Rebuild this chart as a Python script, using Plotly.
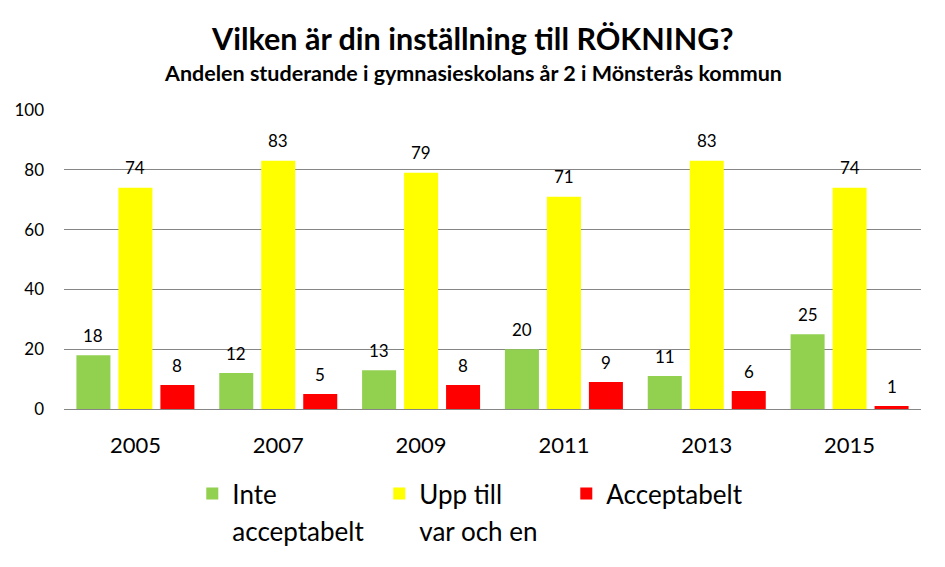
import plotly.graph_objects as go

years = ["2005", "2007", "2009", "2011", "2013", "2015"]
inte_acceptabelt = [18, 12, 13, 20, 11, 25]
upp_till = [74, 83, 79, 71, 83, 74]
acceptabelt = [8, 5, 8, 9, 6, 1]

series_names = ["Inte<br>acceptabelt", "Upp till<br>var och en", "Acceptabelt"]
colors = ["#92D050", "#FFFF00", "#FF0000"]
series_values = [inte_acceptabelt, upp_till, acceptabelt]
label_xshift = [-42, 0, 42]

FONT = "Lato"
LEG_TXT = 26

fig = go.Figure()
for name, vals, col in zip(series_names, series_values, colors):
    styled = '<span style="font-size:%dpx">%s</span>' % (LEG_TXT, name.replace("<br>", '</span><br><span style="font-size:%dpx">' % LEG_TXT))
    fig.add_trace(go.Bar(
        x=years, y=vals, name=styled, marker=dict(color=col, line=dict(width=0)),
        hoverinfo="x+y",
    ))

annotations = []
for vals, xs in zip(series_values, label_xshift):
    for i, v in enumerate(vals):
        # category index on the category x axis
        annotations.append(dict(x=i, y=v, xref="x", yref="y", text=str(v), showarrow=False,
                                xshift=xs, yshift=20, yanchor="middle",
                                font=dict(family=FONT, size=17, color="#000000")))

W, H = 945, 567
ML, MR, MT, MB = 64, 24, 110, 156
plot_h = H - MT - MB
plot_w = W - ML - MR
cx = (W / 2 - ML) / plot_w
annotations.append(dict(text="<b>Vilken är din inställning till RÖKNING?</b>", x=cx, xref="paper",
                        y=(H - MB - 38) / plot_h, yref="paper", yanchor="middle", showarrow=False,
                        font=dict(family=FONT, size=30.5, color="#000000")))
annotations.append(dict(text="<b>Andelen studerande i gymnasieskolans år 2 i Mönsterås kommun</b>", x=cx,
                        xref="paper", y=(H - MB - 73) / plot_h, yref="paper", yanchor="middle",
                        showarrow=False, font=dict(family=FONT, size=21.5, color="#000000")))

fig.update_layout(
    width=W, height=H,
    margin=dict(l=ML, r=MR, t=MT, b=MB),
    paper_bgcolor="white", plot_bgcolor="white",
    barmode="group", bargap=0.118, bargroupgap=0.19,
    font=dict(family=FONT, color="#000000"),
    showlegend=True,
    legend=dict(orientation="h", x=0.1497, xanchor="left", y=-0.2, yanchor="top",
                font=dict(family=FONT, size=28, color="#000000"), valign="top",
                entrywidth=142, entrywidthmode="pixels", traceorder="normal"),
    xaxis=dict(type="category", showgrid=False, ticks="", range=[-0.5, 5.5],
               tickfont=dict(family=FONT, size=22, color="#000000"),
               showline=False, ticklabelstandoff=21),
    yaxis=dict(range=[0, 100], dtick=20, showgrid=True, gridcolor="#868686", gridwidth=1,
               tickfont=dict(family=FONT, size=17, color="#000000"), ticks="", zeroline=True,
               zerolinecolor="#868686", zerolinewidth=1, showline=False, ticklabelstandoff=19),
    annotations=annotations,
)

fig.write_html("out.html")
